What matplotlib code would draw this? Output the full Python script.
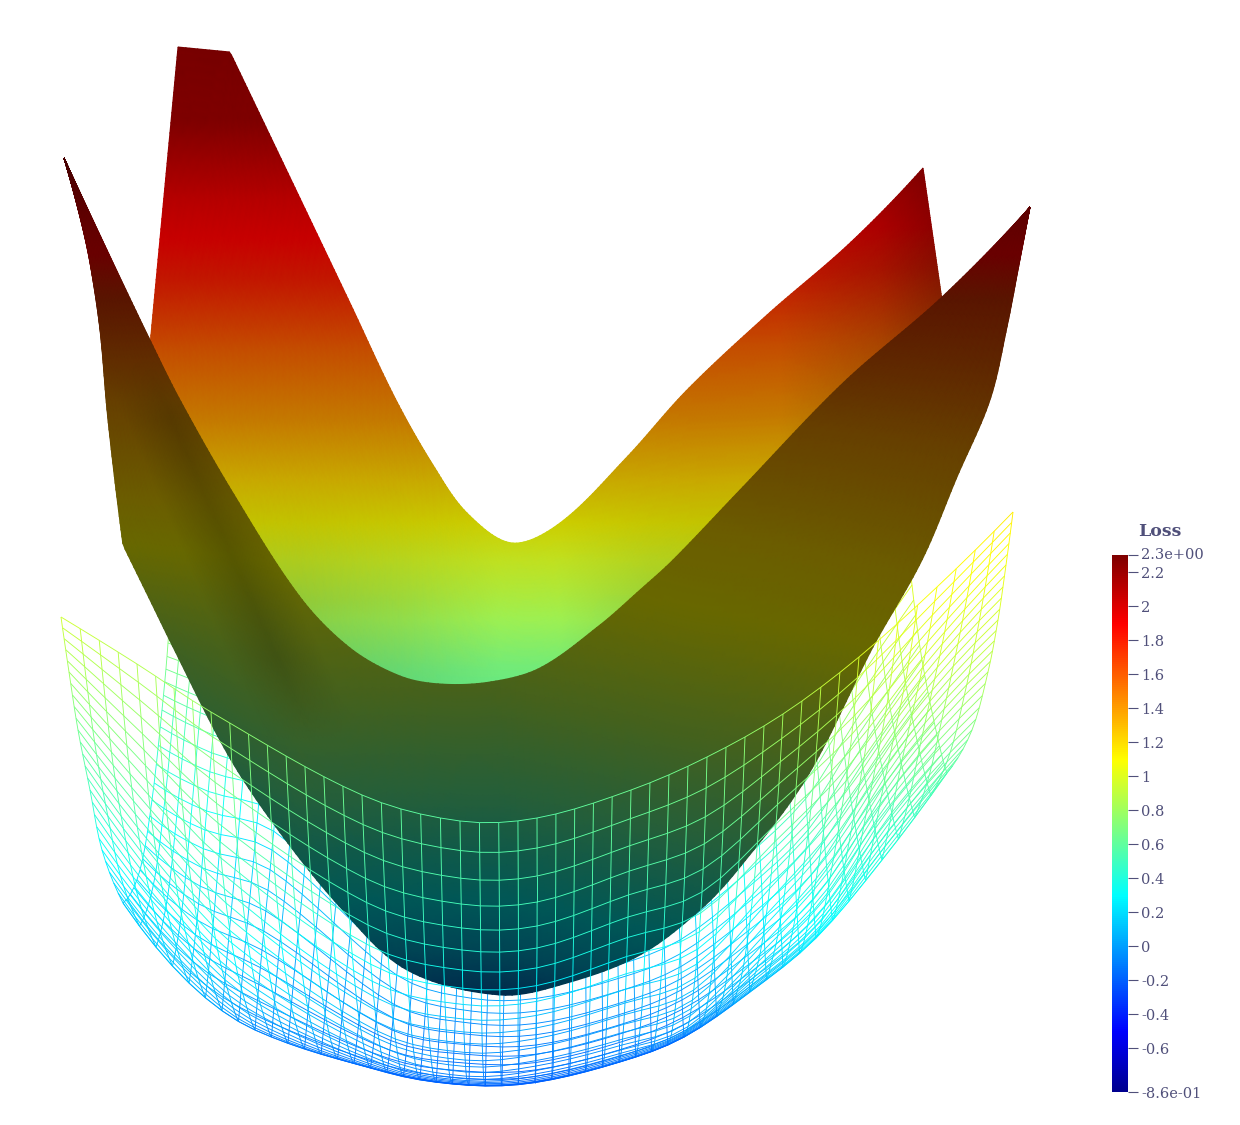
import numpy as np
import matplotlib
matplotlib.use('Agg')
import matplotlib.pyplot as plt
from matplotlib.collections import LineCollection
from matplotlib.colors import LinearSegmentedColormap, Normalize
from matplotlib.transforms import ScaledTranslation

# Everything below (screen pixels, y down).
# The picture is a projected 3D render, so the surfaces are kept as coarse
# control nets / edge curves; the fine mesh is splined from them (see hermite).

loss_min, loss_max = -0.86, 2.3
tick_values = [2.3, 2.2, 2, 1.8, 1.6, 1.4, 1.2, 1, 0.8, 0.6, 0.4, 0.2, 0, -0.2, -0.4, -0.6, -0.86]
tick_labels = ['2.3e+00', '2.2', '2', '1.8', '1.6', '1.4', '1.2', '1', '0.8', '0.6', '0.4', '0.2', '0',
               '-0.2', '-0.4', '-0.6', '-8.6e-01']

# back (lit) sheet of the solid surface
back_top_x = [178, 230, 350, 395, 433, 467, 512, 560, 627, 687, 767, 850, 923]
back_top_y = [47, 52, 303, 398, 465, 513, 543, 523, 457, 390, 315, 243, 168]
back_low_x = [150, 190, 225, 262, 300, 340, 380, 420, 470, 512, 545, 580, 630, 680, 730, 800, 870, 942]
back_low_y = [345, 450, 510, 565, 620, 660, 690, 705, 705, 700, 695, 680, 650, 610, 560, 480, 390, 300]
back_band_y = [47, 120, 200, 280, 350, 420, 470, 520, 560, 620, 670, 720]
back_band_loss = [2.28, 2.2, 1.98, 1.8, 1.58, 1.4, 1.25, 1.1, 0.98, 0.82, 0.68, 0.6]
back_band_shade = [0.9, 0.8, 0.8, 0.76, 0.77, 0.77, 0.78, 0.8, 0.88, 0.94, 0.92, 0.9]
# valley is brighter than its flanks
back_glow_x = [300, 400, 500, 560, 650, 720]
back_glow = [0.86, 0.92, 1.0, 1.0, 0.9, 0.86]

# front (dark) sheet of the solid surface
front_top_x = [64, 107, 150, 180, 233, 300, 350, 400, 440, 490, 540, 600, 640, 673, 740, 843, 942, 1030]
front_top_y = [158, 250, 340, 400, 493, 597, 648, 676, 684, 682, 668, 625, 590, 560, 490, 383, 297, 207]
front_low_x = [64, 80, 90, 100, 108, 123, 150, 173, 227, 273, 340, 407, 500, 567, 640, 700, 740, 807, 873,
               922, 957, 990, 1007, 1018, 1030]
front_low_y = [158, 217, 263, 330, 420, 545, 600, 647, 753, 823, 907, 970, 995, 983, 955, 910, 867, 777, 647,
               560, 477, 400, 327, 270, 207]
front_band_y = [158, 300, 400, 500, 600, 700, 800, 850, 950, 995]
front_band_loss = [2.3, 1.7, 1.4, 1.2, 1.05, 0.85, 0.6, 0.45, 0.15, -0.05]
front_band_shade = [0.55, 0.35, 0.4, 0.42, 0.4, 0.38, 0.37, 0.35, 0.33, 0.3]
ridge_pos = [60, 160, 207, 255, 1100]
ridge_shade = [1.0, 1.0, 0.84, 1.0, 1.0]

# wireframe grid indices of the columns / rows that were read
col_nodes = [0, 4, 8, 16, 21, 25, 30, 34, 38, 42, 46, 50]
row_nodes = [0, 5, 10, 15, 20, 25]

# wireframe: near half, rim down to the lower silhouette
near_x = [[61, 69, 78, 90, 102, 123],
          [137, 144, 152, 162, 175, 189],
          [211, 218, 226, 236, 247, 255],
          [362, 368, 375, 381, 385, 387],
          [460, 462, 464, 466, 468, 469],
          [537, 537, 536, 536, 535, 535],
          [631, 628, 625, 622, 620, 619],
          [707, 702, 695, 689, 685, 684],
          [783, 776, 768, 760, 753, 750],
          [859, 850, 840, 830, 822, 816],
          [937, 925, 912, 900, 890, 882],
          [1013, 1006, 998, 988, 972, 947]]
near_y = [[617, 672, 730, 790, 850, 903],
          [664, 750, 823, 887, 942, 983],
          [712, 823, 903, 966, 1008, 1030],
          [795, 925, 1010, 1052, 1069, 1072],
          [821, 950, 1032, 1072, 1083, 1085],
          [818, 948, 1028, 1066, 1080, 1082],
          [790, 917, 1003, 1045, 1059, 1062],
          [757, 892, 978, 1022, 1034, 1037],
          [714, 824, 902, 954, 981, 992],
          [657, 751, 820, 878, 920, 938],
          [587, 655, 715, 770, 822, 860],
          [512, 565, 620, 672, 730, 773]]
near_loss = [[0.95, 0.8, 0.65, 0.5, 0.3, 0.15],
             [0.86, 0.7, 0.55, 0.38, 0.2, 0.08],
             [0.78, 0.6, 0.42, 0.25, 0.05, -0.08],
             [0.62, 0.45, 0.1, 0.0, -0.12, -0.18],
             [0.58, 0.42, 0.04, -0.08, -0.16, -0.2],
             [0.58, 0.42, 0.02, -0.1, -0.17, -0.2],
             [0.63, 0.46, 0.08, -0.03, -0.12, -0.17],
             [0.68, 0.5, 0.15, 0.04, -0.08, -0.15],
             [0.82, 0.62, 0.3, 0.2, 0.12, 0.05],
             [0.98, 0.75, 0.55, 0.4, 0.3, 0.25],
             [1.08, 0.95, 0.8, 0.65, 0.5, 0.4],
             [1.15, 1.05, 0.95, 0.85, 0.7, 0.55]]

# wireframe: far half, silhouette up to the far rim (mostly behind the solid)
far_x = [[123, 140, 152, 162, 168, 172],
         [189, 197, 205, 213, 220, 226],
         [255, 262, 272, 280, 288, 295],
         [387, 392, 398, 404, 410, 415],
         [469, 470, 472, 474, 476, 478],
         [535, 536, 537, 538, 539, 540],
         [619, 619, 618, 617, 616, 615],
         [684, 682, 680, 676, 672, 668],
         [750, 748, 745, 740, 735, 730],
         [816, 813, 808, 802, 796, 790],
         [882, 872, 860, 850, 843, 838],
         [947, 937, 922, 912, 905, 900]]
far_y = [[903, 870, 800, 710, 643, 570],
         [983, 920, 830, 735, 660, 590],
         [1030, 950, 850, 760, 680, 610],
         [1072, 1030, 960, 880, 800, 730],
         [1085, 1045, 985, 910, 830, 760],
         [1082, 1045, 985, 910, 830, 760],
         [1062, 1025, 965, 888, 808, 738],
         [1037, 1000, 940, 860, 780, 710],
         [992, 955, 890, 810, 730, 655],
         [938, 900, 830, 750, 670, 600],
         [860, 815, 750, 675, 600, 530],
         [773, 735, 660, 585, 510, 450]]
far_loss = [[0.15, 0.2, 0.35, 0.55, 0.72, 0.85],
            [0.08, 0.15, 0.3, 0.5, 0.68, 0.82],
            [-0.08, 0.02, 0.18, 0.38, 0.6, 0.78],
            [-0.18, -0.1, 0.05, 0.25, 0.45, 0.62],
            [-0.2, -0.12, 0.02, 0.2, 0.4, 0.55],
            [-0.2, -0.12, 0.02, 0.2, 0.4, 0.55],
            [-0.17, -0.09, 0.07, 0.26, 0.45, 0.62],
            [-0.15, -0.05, 0.12, 0.32, 0.5, 0.68],
            [0.05, 0.15, 0.3, 0.5, 0.68, 0.85],
            [0.25, 0.35, 0.5, 0.68, 0.85, 1.0],
            [0.4, 0.52, 0.68, 0.85, 1.0, 1.1],
            [0.55, 0.7, 0.85, 1.0, 1.12, 1.2]]

# ParaView's jet preset
jet = LinearSegmentedColormap.from_list('pv_jet', [
    (0.0, (0, 0, 0.5625)), (0.1115, (0, 0, 1)), (0.3655, (0, 1, 1)), (0.4925, (0.5, 1, 0.5)),
    (0.619, (1, 1, 0)), (0.873, (1, 0, 0)), (1.0, (0.5, 0, 0))])
norm = Normalize(loss_min, loss_max)
text_color = '#50507a'


def hermite(nodes, t_nodes, t):
    # cubic spline through the read nodes, with uneven node spacing, along axis 0
    nodes = np.asarray(nodes, dtype=float)
    t_nodes = np.asarray(t_nodes, dtype=float)
    k = len(nodes)
    if k == 2:
        f = (t - t_nodes[0]) / (t_nodes[1] - t_nodes[0])
        return nodes[0] + (nodes[1] - nodes[0]) * f.reshape((-1,) + (1,) * (nodes.ndim - 1))
    m = np.zeros_like(nodes)
    for j in range(1, k - 1):
        m[j] = (nodes[j + 1] - nodes[j - 1]) / (t_nodes[j + 1] - t_nodes[j - 1])
    m[0] = 2 * (nodes[1] - nodes[0]) / (t_nodes[1] - t_nodes[0]) - m[1]
    m[-1] = 2 * (nodes[-1] - nodes[-2]) / (t_nodes[-1] - t_nodes[-2]) - m[-2]
    i = np.clip(np.searchsorted(t_nodes, t, side='right') - 1, 0, k - 2)
    h = t_nodes[i + 1] - t_nodes[i]
    f = (t - t_nodes[i]) / h
    shape = (-1,) + (1,) * (nodes.ndim - 1)
    f = f.reshape(shape)
    h = h.reshape(shape)
    return ((2 * f ** 3 - 3 * f ** 2 + 1) * nodes[i] + (f ** 3 - 2 * f ** 2 + f) * h * m[i]
            + (-2 * f ** 3 + 3 * f ** 2) * nodes[i + 1] + (f ** 3 - f ** 2) * h * m[i + 1])


def edge(xs, ys, n, corners=()):
    # sample an edge evenly along its length; corners stay sharp
    pts = np.column_stack([xs, ys]).astype(float)
    chord = np.concatenate([[0], np.cumsum(np.hypot(*np.diff(pts, axis=0).T))])
    t = np.linspace(0, chord[-1], n)
    out = np.zeros((n, 2))
    cuts = [0] + list(corners) + [len(pts) - 1]
    for a, b in zip(cuts[:-1], cuts[1:]):
        mask = (t >= chord[a]) & (t <= chord[b])
        out[mask] = hermite(pts[a:b + 1], chord[a:b + 1], t[mask])
    return out


def sheet(top_x, top_y, low_x, low_y, top_corners=(), low_corners=(), n=300, m=60):
    v = np.linspace(0, 1, m)[None, :]
    top = edge(top_x, top_y, n, top_corners)
    low = edge(low_x, low_y, n, low_corners)
    xs = top[:, 0, None] + (low[:, 0, None] - top[:, 0, None]) * v
    ys = top[:, 1, None] + (low[:, 1, None] - top[:, 1, None]) * v
    return xs, ys


def upsample(net):
    full = hermite(net, col_nodes, np.arange(51.0))
    return hermite(full.T, row_nodes, np.arange(26.0)).T


def draw_wire(ax, xs, ys, loss, z):
    pts = np.dstack([xs, ys])
    segs = [np.stack([pts[:-1, :], pts[1:, :]], axis=2).reshape(-1, 2, 2),
            np.stack([pts[:, :-1], pts[:, 1:]], axis=2).reshape(-1, 2, 2)]
    vals = [0.5 * (loss[:-1, :] + loss[1:, :]).ravel(), 0.5 * (loss[:, :-1] + loss[:, 1:]).ravel()]
    ax.add_collection(LineCollection(np.concatenate(segs), colors=jet(norm(np.concatenate(vals))),
                                     linewidths=0.65, zorder=z))


fig = plt.figure(figsize=(12.4, 11.25), dpi=100)
ax = fig.add_axes([0, 0, 1, 1])
ax.set_xlim(0, 1240)
ax.set_ylim(1125, 0)
ax.axis('off')

draw_wire(ax, upsample(far_x), upsample(far_y), upsample(far_loss), 1)

bx, by = sheet(back_top_x, back_top_y, back_low_x, back_low_y, top_corners=(1,))
by_tilt = by + 0.06 * np.clip(bx - 700, 0, None)
loss = np.interp(by_tilt, back_band_y, back_band_loss)
shade = np.interp(by_tilt, back_band_y, back_band_shade)
glow = np.interp(bx, back_glow_x, back_glow)
shade = shade * (1 - (1 - glow) * np.clip((by - 480) / 120, 0, 1))
shade = shade * np.interp(bx, [780, 880, 945], [1.0, 0.86, 0.68])
ax.pcolormesh(bx, by, np.clip(jet(norm(loss))[..., :3] * shade[..., None], 0, 1), shading='gouraud', zorder=2)

fx, fy = sheet(front_top_x, front_top_y, front_low_x, front_low_y, low_corners=(5,))
fy_tilt = fy - 0.2 * np.clip(fx - 500, 0, None) * np.clip((fy - 300) / 300, 0, 1)
fy_tilt = fy_tilt + 0.5 * np.clip(300 - fx, 0, None) * np.clip((fy - 500) / 150, 0, 1)
loss = np.interp(fy_tilt, front_band_y, front_band_loss)
shade = np.interp(fy_tilt, front_band_y, front_band_shade)
ridge = np.interp(fx - 0.44 * (fy - 500), ridge_pos, ridge_shade)
shade = shade * (1 - (1 - ridge) * np.clip((740 - fy) / 80, 0, 1) * np.clip((fy - 360) / 60, 0, 1))
ax.pcolormesh(fx, fy, np.clip(jet(norm(loss))[..., :3] * shade[..., None], 0, 1), shading='gouraud', zorder=3)

draw_wire(ax, upsample(near_x), upsample(near_y), upsample(near_loss), 4)

# colour bar, x 1112-1128, y 555-1092 in pixels
cax = fig.add_axes([1112 / 1240, 1 - 1092 / 1125, 16 / 1240, 537 / 1125])
cax.imshow(np.linspace(loss_max, loss_min, 512)[:, None], cmap=jet, norm=norm, aspect='auto',
           extent=[0, 1, loss_min, loss_max])
cax.set_xticks([])
cax.yaxis.tick_right()
cax.set_yticks(tick_values)
cax.set_yticklabels(tick_labels, family='DejaVu Serif', fontsize=10.5, color=text_color)
cax.tick_params(axis='y', length=7, width=0.8, color=text_color, pad=2.5)
for lab, dy in zip(cax.get_yticklabels(), [2.5] + [0] * 16):
    lab.set_transform(lab.get_transform() + ScaledTranslation(0, (dy - 1) / 100, fig.dpi_scale_trans))
for s in cax.spines.values():
    s.set_visible(False)
fig.text(1138 / 1240, 1 - 531 / 1125, 'Loss', family='DejaVu Serif', fontsize=12.5, fontweight='bold',
         color=text_color, va='center', ha='left')

fig.savefig('out.png', dpi=100)
